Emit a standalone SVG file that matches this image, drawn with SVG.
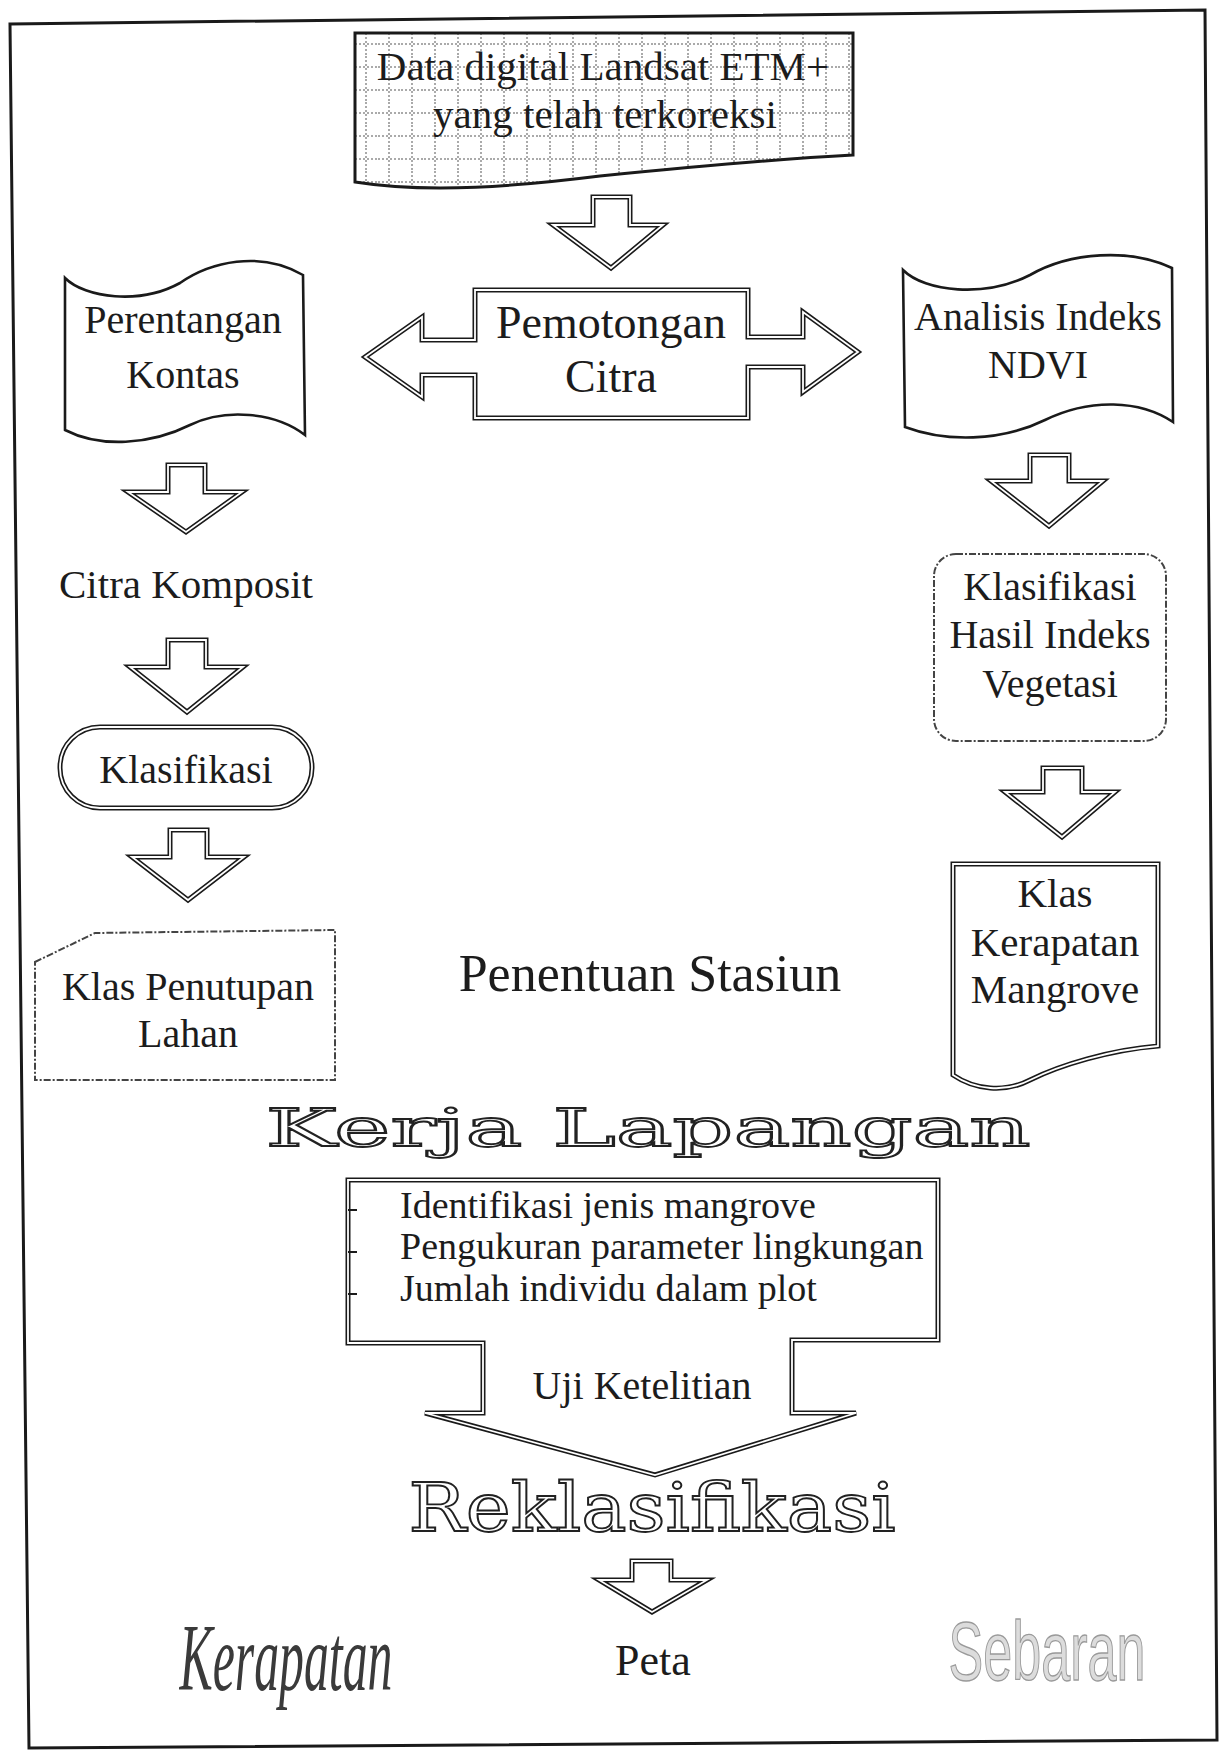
<svg xmlns="http://www.w3.org/2000/svg" width="1232" height="1755" viewBox="0 0 1232 1755">
<defs>
<pattern id="grid" x="355" y="33" width="23" height="23" patternUnits="userSpaceOnUse">
<rect width="23" height="23" fill="#fff"/>
<line x1="11" y1="0" x2="11" y2="23" stroke="#555" stroke-width="1" stroke-dasharray="2 2"/>
<line x1="0" y1="11" x2="23" y2="11" stroke="#555" stroke-width="1" stroke-dasharray="2 2"/>
</pattern>
<style>
.t{font-family:"Liberation Serif","Times New Roman",serif;fill:#1c1c1c;text-anchor:middle}
.tl{font-family:"Liberation Serif","Times New Roman",serif;fill:#1c1c1c}
.o{fill:#fff;stroke:#1a1a1a;stroke-width:5;stroke-linejoin:miter}
.i{fill:none;stroke:#fff;stroke-width:1.8;stroke-linejoin:miter}
.s{fill:#fff;stroke:#1a1a1a;stroke-width:2.6}
.dash{fill:#fff;stroke:#444;stroke-width:2;stroke-dasharray:7 2 2 2}
.out{font-family:"DejaVu Serif",serif;fill:#fff;stroke:#222;stroke-width:1.8;text-anchor:middle}
</style>
</defs>
<rect width="1232" height="1755" fill="#fff"/>
<polygon points="10,24 1205,10 1217,1740 29,1748" fill="none" stroke="#1a1a1a" stroke-width="3"/>

<g id="connectors">
<path class="o" d="M593,197 H630 V225 H663 L611,268 L553,225 H593 Z"/>
<path class="i" d="M593,197 H630 V225 H663 L611,268 L553,225 H593 Z"/>
<path class="o" d="M168,465 H205 V492 H242 L186,532 L128,492 H168 Z"/>
<path class="i" d="M168,465 H205 V492 H242 L186,532 L128,492 H168 Z"/>
<path class="o" d="M168,640 H206 V667 H243 L187,712 L130,667 H168 Z"/>
<path class="i" d="M168,640 H206 V667 H243 L187,712 L130,667 H168 Z"/>
<path class="o" d="M170,830 H207 V857 H244 L188,900 L132,857 H170 Z"/>
<path class="i" d="M170,830 H207 V857 H244 L188,900 L132,857 H170 Z"/>
<path class="o" d="M1030,455 H1069 V481 H1103 L1049,526 L991,481 H1030 Z"/>
<path class="i" d="M1030,455 H1069 V481 H1103 L1049,526 L991,481 H1030 Z"/>
<path class="o" d="M1043,768 H1082 V792 H1115 L1062,837 L1005,792 H1043 Z"/>
<path class="i" d="M1043,768 H1082 V792 H1115 L1062,837 L1005,792 H1043 Z"/>
<path class="o" d="M632,1561 H671 V1580 H707 L652,1612 L599,1580 H632 Z"/>
<path class="i" d="M632,1561 H671 V1580 H707 L652,1612 L599,1580 H632 Z"/>
</g>

<g id="node-data">
<path d="M355,33 H853 V155 C760,160 680,168 600,176 C520,186 430,194 355,182 Z" fill="url(#grid)" stroke="#1a1a1a" stroke-width="3"/>
<text class="t" x="603" y="80" font-size="41">Data digital Landsat ETM+</text>
<text class="t" x="605" y="128" font-size="41">yang telah terkoreksi</text>
</g>

<g id="node-pemotongan">
<path class="o" d="M475,290 H748 V337 H803 V312 L858,352 L803,392 V367 H748 V418 H475 V375 H422 V397 L365,357 L422,317 V340 H475 Z"/>
<path class="i" d="M475,290 H748 V337 H803 V312 L858,352 L803,392 V367 H748 V418 H475 V375 H422 V397 L365,357 L422,317 V340 H475 Z"/>
<text class="t" x="611" y="338" font-size="46">Pemotongan</text>
<text class="t" x="611" y="392" font-size="46">Citra</text>
</g>

<g id="node-perentangan">
<path class="s" d="M65,278 C85,298 140,305 180,283 C210,262 260,250 303,275 L305,435 C275,412 225,408 190,425 C150,445 100,448 65,430 Z"/>
<text class="t" x="183" y="333" font-size="40">Perentangan</text>
<text class="t" x="183" y="388" font-size="40">Kontas</text>
</g>

<g id="node-ndvi">
<path class="s" d="M903,270 C925,292 985,298 1030,275 C1070,252 1130,248 1172,268 L1173,422 C1140,400 1090,398 1045,420 C1000,442 945,442 905,427 Z"/>
<text class="t" x="1038" y="330" font-size="40">Analisis Indeks</text>
<text class="t" x="1038" y="378" font-size="40">NDVI</text>
</g>

<g id="node-citra-komposit">
<text class="t" x="186" y="598" font-size="41">Citra Komposit</text>
</g>

<g id="node-klasifikasi">
<rect class="o" x="60" y="727" width="252" height="81" rx="40"/>
<rect class="i" x="60" y="727" width="252" height="81" rx="40"/>
<text class="t" x="186" y="783" font-size="40">Klasifikasi</text>
</g>

<g id="node-klas-penutupan">
<path class="dash" d="M35,962 L95,933 L335,930 L335,1080 L35,1080 Z"/>
<text class="t" x="188" y="1000" font-size="40">Klas Penutupan</text>
<text class="t" x="188" y="1047" font-size="40">Lahan</text>
</g>

<g id="node-klasifikasi-hasil">
<rect class="dash" x="934" y="554" width="232" height="187" rx="22"/>
<text class="t" x="1050" y="600" font-size="40">Klasifikasi</text>
<text class="t" x="1050" y="648" font-size="40">Hasil Indeks</text>
<text class="t" x="1050" y="697" font-size="40">Vegetasi</text>
</g>

<g id="node-klas-kerapatan">
<path class="o" d="M953,864 H1158 V1046 C1110,1050 1060,1065 1030,1080 C1005,1093 975,1090 953,1075 Z"/>
<path class="i" d="M953,864 H1158 V1046 C1110,1050 1060,1065 1030,1080 C1005,1093 975,1090 953,1075 Z"/>
<text class="t" x="1055" y="907" font-size="41">Klas</text>
<text class="t" x="1055" y="956" font-size="41">Kerapatan</text>
<text class="t" x="1055" y="1003" font-size="41">Mangrove</text>
</g>

<g id="node-penentuan">
<text class="t" x="650" y="991" font-size="52">Penentuan Stasiun</text>
</g>

<g id="node-kerja-lapangan">
<text class="out" x="648" y="1146" font-size="52" textLength="765" lengthAdjust="spacingAndGlyphs">Kerja Lapangan</text>
</g>

<g id="node-survey">
<path class="o" d="M348,1180 H938 V1340 H792 V1413 H856 L655,1475 L425,1413 H483 V1343 H348 Z"/>
<path class="i" d="M348,1180 H938 V1340 H792 V1413 H856 L655,1475 L425,1413 H483 V1343 H348 Z"/>
<path d="M348,1210 H357 M348,1252 H357 M348,1294 H357" stroke="#1a1a1a" stroke-width="2"/>
<text class="tl" x="400" y="1218" font-size="38">Identifikasi jenis mangrove</text>
<text class="tl" x="400" y="1259" font-size="38">Pengukuran parameter lingkungan</text>
<text class="tl" x="400" y="1301" font-size="38">Jumlah individu dalam plot</text>
<text class="t" x="642" y="1399" font-size="40">Uji Ketelitian</text>
</g>

<g id="node-reklasifikasi">
<text class="out" x="652" y="1531" font-size="68" textLength="487" lengthAdjust="spacingAndGlyphs">Reklasifikasi</text>
</g>

<g id="node-kerapatan">
<text x="286" y="1690" font-family="Liberation Serif, serif" font-style="italic" font-size="95" fill="#3a3a3a" text-anchor="middle" textLength="213" lengthAdjust="spacingAndGlyphs">Kerapatan</text>
</g>

<g id="node-peta">
<text class="t" x="653" y="1675" font-size="44">Peta</text>
</g>

<g id="node-sebaran">
<text x="0" y="0" transform="translate(1047,1680) scale(0.62,1)" font-family="Liberation Sans, sans-serif" font-size="84" fill="#dcdcdc" stroke="#9a9a9a" stroke-width="1.4" text-anchor="middle">Sebaran</text>
</g>
</svg>
